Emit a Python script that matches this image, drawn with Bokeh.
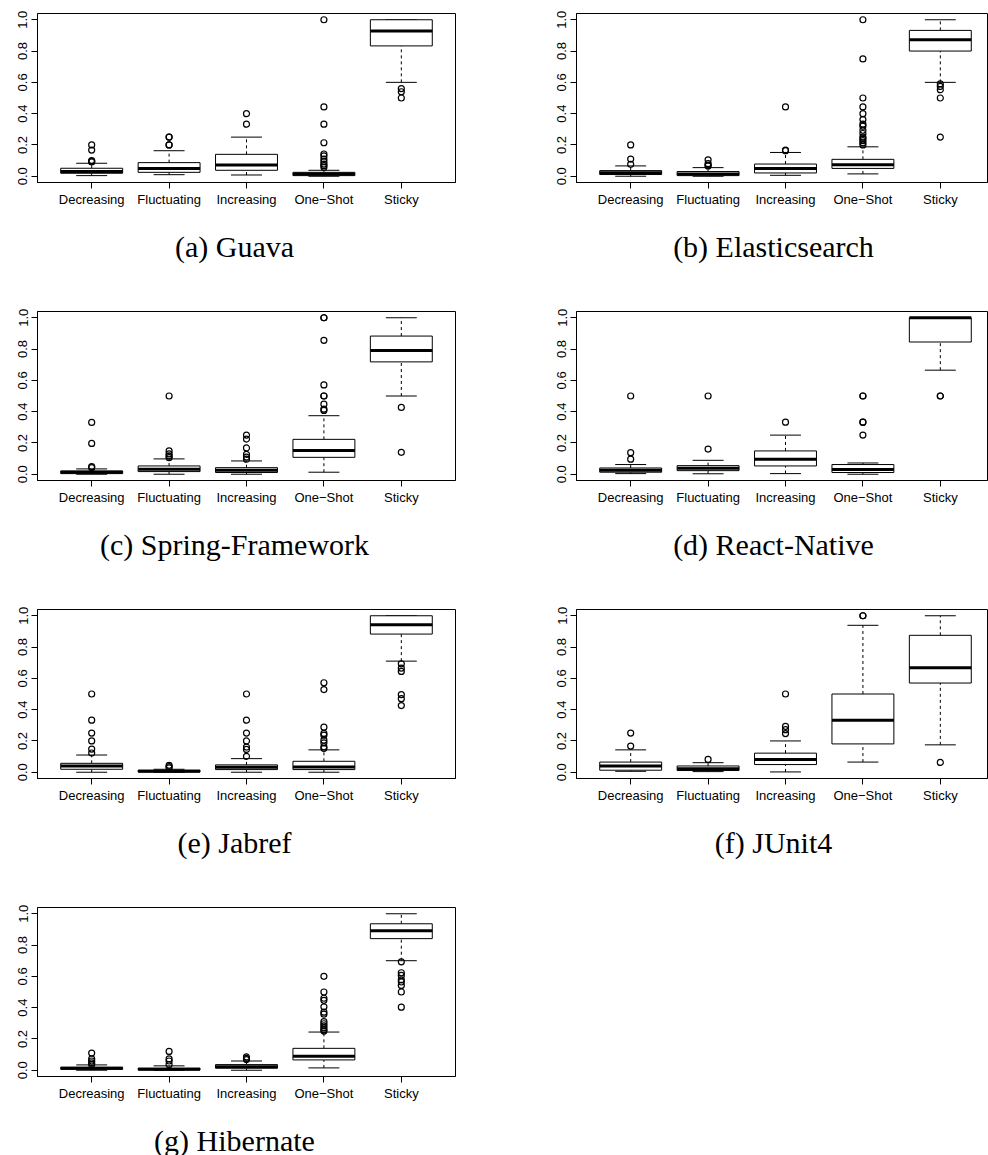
import numpy as np
from bokeh.plotting import figure
from bokeh.models import Range1d, FixedTicker, PrintfTickFormatter, Div
from bokeh.layouts import row, column
from bokeh.embed import file_html
from bokeh.resources import INLINE

categories = ["Decreasing", "Fluctuating", "Increasing", "One\u2212Shot", "Sticky"]
y_ticks = [0.0, 0.2, 0.4, 0.6, 0.8, 1.0]

# per category: [lower whisker, Q1, median, Q3, upper whisker]
guava_stats = [[0.004, 0.019, 0.030, 0.051, 0.083],
               [0.010, 0.025, 0.050, 0.087, 0.163],
               [0.008, 0.038, 0.072, 0.140, 0.250],
               [0.000, 0.004, 0.015, 0.025, 0.038],
               [0.600, 0.833, 0.928, 1.000, 1.000]]
guava_out = [[0.20, 0.167, 0.10, 0.095, 0.091],
             [0.25, 0.25, 0.20, 0.20],
             [0.40, 0.333],
             [1.0, 0.443, 0.333, 0.214, 0.142, 0.13, 0.11, 0.093, 0.078, 0.068, 0.057],
             [0.56, 0.54, 0.50]]

elastic_stats = [[0.000, 0.011, 0.023, 0.036, 0.066],
                 [0.000, 0.004, 0.015, 0.030, 0.055],
                 [0.006, 0.021, 0.050, 0.078, 0.152],
                 [0.015, 0.050, 0.074, 0.108, 0.188],
                 [0.600, 0.800, 0.873, 0.932, 1.000]]
elastic_out = [[0.20, 0.11, 0.076],
               [0.105, 0.08, 0.07, 0.066],
               [0.443, 0.167, 0.163],
               [1.0, 0.75, 0.5, 0.443, 0.4, 0.362, 0.333, 0.32, 0.294, 0.273, 0.25, 0.24, 0.227, 0.214, 0.2],
               [0.59, 0.574, 0.553, 0.5, 0.25]]

spring_stats = [[0.000, 0.004, 0.013, 0.021, 0.034],
                [0.000, 0.017, 0.032, 0.053, 0.098],
                [0.000, 0.011, 0.025, 0.042, 0.085],
                [0.013, 0.108, 0.151, 0.223, 0.374],
                [0.500, 0.718, 0.790, 0.883, 1.000]]
spring_out = [[0.331, 0.197, 0.049, 0.042],
              [0.5, 0.149, 0.13, 0.117, 0.106],
              [0.25, 0.225, 0.168, 0.127, 0.11, 0.096],
              [1.0, 1.0, 0.856, 0.571, 0.5, 0.5, 0.448, 0.416, 0.408],
              [0.427, 0.14]]

react_stats = [[0.004, 0.013, 0.025, 0.040, 0.062],
               [0.003, 0.023, 0.038, 0.055, 0.089],
               [0.004, 0.053, 0.096, 0.149, 0.250],
               [0.000, 0.011, 0.030, 0.062, 0.072],
               [0.665, 0.845, 1.000, 1.000, 1.000]]
react_out = [[0.5, 0.138, 0.096],
             [0.5, 0.161],
             [0.333],
             [0.5, 0.5, 0.333, 0.333, 0.25],
             [0.5, 0.5]]

jabref_stats = [[0.000, 0.019, 0.040, 0.057, 0.110],
                [0.000, 0.002, 0.006, 0.013, 0.019],
                [0.000, 0.017, 0.032, 0.047, 0.087],
                [0.000, 0.017, 0.034, 0.070, 0.143],
                [0.710, 0.883, 0.943, 1.000, 1.000]]
jabref_out = [[0.5, 0.333, 0.25, 0.2, 0.148, 0.123],
              [0.044, 0.036, 0.028],
              [0.5, 0.333, 0.25, 0.2, 0.161, 0.146, 0.102],
              [0.572, 0.528, 0.288, 0.248, 0.237, 0.205, 0.188, 0.163, 0.153],
              [0.693, 0.665, 0.644, 0.496, 0.47, 0.426]]

junit_stats = [[0.006, 0.013, 0.040, 0.065, 0.143],
               [0.004, 0.011, 0.023, 0.040, 0.061],
               [0.002, 0.049, 0.082, 0.122, 0.200],
               [0.065, 0.181, 0.333, 0.500, 0.939],
               [0.175, 0.570, 0.667, 0.875, 1.000]]
junit_out = [[0.25, 0.167],
             [0.082],
             [0.5, 0.293, 0.272, 0.247],
             [1.0, 1.0],
             [0.063]]

hibernate_stats = [[0.000, 0.006, 0.013, 0.019, 0.034],
                   [0.000, 0.002, 0.006, 0.013, 0.028],
                   [0.000, 0.013, 0.023, 0.036, 0.059],
                   [0.015, 0.066, 0.089, 0.140, 0.244],
                   [0.700, 0.841, 0.892, 0.936, 1.000]]
hibernate_out = [[0.11, 0.072, 0.059, 0.047, 0.036],
                 [0.12, 0.072, 0.059, 0.036],
                 [0.085, 0.076, 0.068],
                 [0.6, 0.5, 0.46, 0.447, 0.405, 0.371, 0.358, 0.311, 0.297, 0.284, 0.271, 0.258, 0.25],
                 [0.693, 0.623, 0.606, 0.578, 0.564, 0.542, 0.5, 0.403]]

captions = ["(a) Guava", "(b) Elasticsearch", "(c) Spring-Framework", "(d) React-Native",
            "(e) Jabref", "(f) JUnit4", "(g) Hibernate"]
all_stats = [guava_stats, elastic_stats, spring_stats, react_stats, jabref_stats, junit_stats, hibernate_stats]
all_out = [guava_out, elastic_out, spring_out, react_out, jabref_out, junit_out, hibernate_out]

FONT = "Liberation Sans"
FRAME_W = 418
FRAME_H = 169
PX_PER_UNIT = FRAME_W / 5.4
ROW_H = 298
BOTTOM = 40


def make_cell(idx):
    right_col = idx % 2 == 1
    first_row = idx < 2
    last_row = idx == 6
    left_b = 29 if right_col else 37
    right_b = 1 if right_col else 92
    top_b = 13 if first_row else 5
    frame_w = 411 if right_col else FRAME_W
    width = left_b + frame_w + right_b
    fig_h = top_b + FRAME_H + BOTTOM
    x_end = 0.3 + frame_w / PX_PER_UNIT

    p = figure(width=width, height=fig_h, output_backend="svg", toolbar_location=None,
               x_range=Range1d(0.3, x_end), y_range=Range1d(-0.04, 1.04),
               min_border_left=left_b, min_border_right=right_b,
               min_border_top=top_b, min_border_bottom=BOTTOM)
    p.grid.visible = False
    p.outline_line_color = "black"
    p.outline_line_alpha = 1.0
    p.outline_line_width = 1
    p.background_fill_color = "white"
    p.border_fill_color = "white"

    stats = all_stats[idx]
    outliers = all_out[idx]
    x = np.arange(1, len(categories) + 1, dtype=float)
    lo, q1, med, q3, hi = np.array(stats, dtype=float).T

    p.segment(x, q3, x, hi, line_color="black", line_width=1, line_dash="3 3")
    p.segment(x, lo, x, q1, line_color="black", line_width=1, line_dash="3 3")
    p.segment(x - 0.2, hi, x + 0.2, hi, line_color="black", line_width=1)
    p.segment(x - 0.2, lo, x + 0.2, lo, line_color="black", line_width=1)
    p.vbar(x=x, width=0.8, bottom=q1, top=q3, fill_color="white", line_color="black", line_width=1)
    p.segment(x - 0.4, med, x + 0.4, med, line_color="black", line_width=3)

    ox, oy = [], []
    for i, vals in enumerate(outliers):
        ox.extend([x[i]] * len(vals))
        oy.extend(vals)
    p.scatter(ox, oy, marker="circle", size=6, fill_color=None, line_color="black", line_width=1.2)

    p.xaxis.ticker = FixedTicker(ticks=list(x))
    p.xaxis.major_label_overrides = {int(i + 1): c for i, c in enumerate(categories)}
    p.yaxis.ticker = FixedTicker(ticks=y_ticks)
    p.yaxis.formatter = PrintfTickFormatter(format="%.1f")
    p.yaxis.major_label_orientation = "parallel"
    for ax in (p.xaxis, p.yaxis):
        ax.major_label_text_font = FONT
        ax.major_label_text_font_size = "13px"
        ax.major_label_text_color = "black"
        ax.axis_line_color = "black"
        ax.major_tick_line_color = "black"
        ax.minor_tick_line_color = None
        ax.major_tick_in = 0
        ax.major_tick_out = 6
    p.xaxis.major_label_standoff = 3
    p.yaxis.major_label_standoff = 4

    # caption centred 197.5 px right of the frame's left edge
    c = left_b + 197.5
    ml = max(0, int(round(2 * c - width)))
    w = int(round(2 * (c - ml)))
    row_total = ROW_H + (8 if first_row else 0)
    if last_row:
        row_total = 1155 - (8 + 3 * ROW_H)
    div_h = row_total - fig_h
    html = ('<div style="margin:0 0 0 %dpx; padding:10px 0 0 0; width:%dpx; text-align:center; '
            'font-family:\'Liberation Serif\'; font-size:30px; line-height:30px; color:black; '
            'white-space:nowrap;">%s</div>') % (ml, w, captions[idx])
    d = Div(text=html, width=width, height=div_h, margin=0)
    return column(p, d, spacing=0)


cells = [make_cell(i) for i in range(7)]
layout = column(row(cells[0], cells[1], spacing=0),
                row(cells[2], cells[3], spacing=0),
                row(cells[4], cells[5], spacing=0),
                row(cells[6], spacing=0), spacing=0)

open("out.html", "w").write(file_html(layout, INLINE))
